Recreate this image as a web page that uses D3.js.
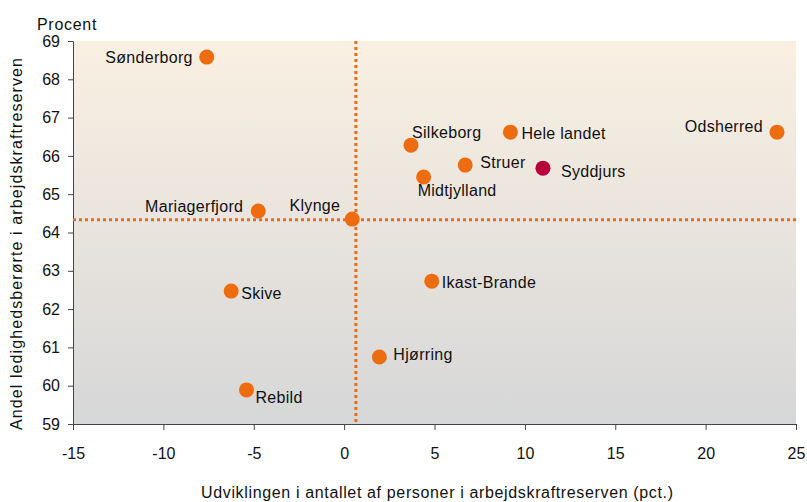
<!DOCTYPE html>
<html>
<head>
<meta charset="utf-8">
<script src="https://cdn.jsdelivr.net/npm/d3@7"></script>
<style>
  body { margin: 0; background: #fff; }
  text { font-family: "Liberation Sans", Arial, sans-serif; fill: #111; }
  .axis path, .axis line { stroke: #444; }
  .axis text { font-size: 16px; fill: #111; font-family: "Liberation Sans", Arial, sans-serif; }
</style>
</head>
<body>
<div id="chart"></div>
<script>
//////////////////////// Data ////////////////////////
const names = ["Sønderborg", "Odsherred", "Hele landet", "Silkeborg", "Struer", "Syddjurs", "Midtjylland",
  "Mariagerfjord", "Klynge", "Skive", "Ikast-Brande", "Hjørring", "Rebild"]
const xValues = [-7.6, 23.95, 9.2, 3.7, 6.7, 11.0, 4.4, -4.75, 0.45, -6.25, 4.85, 1.95, -5.4]
const yValues = [68.58, 66.62, 66.62, 66.28, 65.76, 65.68, 65.45, 64.56, 64.35, 62.47, 62.73, 60.75, 59.89]
const highlight = ["Syddjurs"]
const refX = 0.65   // vertical reference line
const refY = 64.33  // horizontal reference line
const xTicks = [-15, -10, -5, 0, 5, 10, 15, 20, 25]
const yTicks = [59, 60, 61, 62, 63, 64, 65, 66, 67, 68, 69]

//label placement (dx, dy in px, anchor)
const labelPos = {
  "Sønderborg": [-14, 6, "end"],
  "Odsherred": [-14, 0, "end"],
  "Hele landet": [11, 7, "start"],
  "Silkeborg": [1, -7, "start"],
  "Struer": [15, 3, "start"],
  "Syddjurs": [18, 9, "start"],
  "Midtjylland": [-6, 19, "start"],
  "Mariagerfjord": [-15, 1, "end"],
  "Klynge": [-12, -8, "end"],
  "Skive": [10, 8, "start"],
  "Ikast-Brande": [10, 7, "start"],
  "Hjørring": [14, 3, "start"],
  "Rebild": [9, 13, "start"]
}

const data = names.map((n, i) => ({ name: n, x: xValues[i], y: yValues[i] }))

//////////////////////// SVG ////////////////////////
const W = 807, H = 502
const margin = { left: 73, top: 41, right: 11, bottom: 78 }
const width = W - margin.left - margin.right
const height = H - margin.top - margin.bottom

const svgRoot = d3.select("#chart").append("svg")
  .attr("width", W)
  .attr("height", H)

const defs = svgRoot.append("defs")
const grad = defs.append("linearGradient")
  .attr("id", "bg")
  .attr("x1", 0).attr("y1", 0).attr("x2", 0).attr("y2", 1)
grad.append("stop").attr("offset", "0%").attr("stop-color", "#faf0e2")
grad.append("stop").attr("offset", "100%").attr("stop-color", "#d6d7d8")

const svg = svgRoot.append("g")
  .attr("transform", "translate(" + [margin.left, margin.top] + ")")

//////////////////////// Scales ////////////////////////
const x = d3.scaleLinear().domain([-15, 25]).range([0, width])
const y = d3.scaleLinear().domain([59, 69]).range([height, 0])

svg.append("rect")
  .attr("width", width)
  .attr("height", height)
  .style("fill", "url(#bg)")

//////////////////////// Axes ////////////////////////
svg.append("g")
  .attr("class", "axis")
  .attr("transform", "translate(0," + height + ")")
  .call(d3.axisBottom(x).tickValues(xTicks).tickFormat(d => String(d))
    .tickSize(6).tickSizeOuter(0).tickPadding(18))

svg.append("g")
  .attr("class", "axis")
  .call(d3.axisLeft(y).tickValues(yTicks).tickFormat(d => String(d))
    .tickSize(5).tickSizeOuter(0).tickPadding(8))

//////////////////////// Reference lines ////////////////////////
svg.append("line")
  .attr("x1", 0).attr("x2", width)
  .attr("y1", y(refY)).attr("y2", y(refY))
  .style("stroke", "#ee6c10").style("stroke-width", 3).style("stroke-dasharray", "3,3")

svg.append("line")
  .attr("x1", x(refX)).attr("x2", x(refX))
  .attr("y1", 0).attr("y2", height)
  .style("stroke", "#ee6c10").style("stroke-width", 3).style("stroke-dasharray", "3,3")

//////////////////////// Points ////////////////////////
svg.selectAll(".dot")
  .data(data)
  .enter().append("circle")
  .attr("class", "dot")
  .attr("cx", d => x(d.x))
  .attr("cy", d => y(d.y))
  .attr("r", 7.5)
  .style("fill", d => highlight.includes(d.name) ? "#b6003b" : "#ee6c10")

svg.selectAll(".label")
  .data(data)
  .enter().append("text")
  .attr("class", "label")
  .attr("x", d => x(d.x) + labelPos[d.name][0])
  .attr("y", d => y(d.y) + labelPos[d.name][1])
  .attr("text-anchor", d => labelPos[d.name][2])
  .style("font-size", "16px")
  .style("letter-spacing", "0.3px")
  .text(d => d.name)

//////////////////////// Titles ////////////////////////
svgRoot.append("text")
  .attr("x", 37).attr("y", 30)
  .style("font-size", "16px")
  .style("letter-spacing", "0.7px")
  .text("Procent")

svgRoot.append("text")
  .attr("transform", "translate(22,244) rotate(-90)")
  .attr("text-anchor", "middle")
  .attr("textLength", 372)
  .attr("lengthAdjust", "spacing")
  .style("font-size", "16px")
  .text("Andel ledighedsberørte i arbejdskraftreserven")

svgRoot.append("text")
  .attr("x", 437).attr("y", 498)
  .attr("text-anchor", "middle")
  .attr("textLength", 472)
  .attr("lengthAdjust", "spacing")
  .style("font-size", "16px")
  .text("Udviklingen i antallet af personer i arbejdskraftreserven (pct.)")
</script>
</body>
</html>
